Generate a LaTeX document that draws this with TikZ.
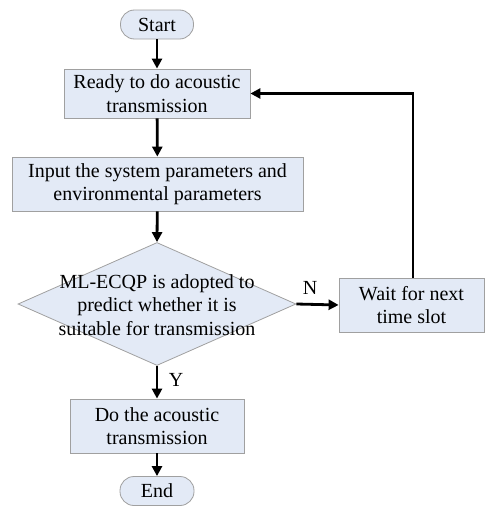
\documentclass[tikz,border=0pt]{standalone}
\usepackage{fontspec}
\setmainfont{Liberation Serif}
\usetikzlibrary{arrows.meta,shapes.geometric}
\definecolor{boxfill}{HTML}{E3EAF6}
\definecolor{boxline}{HTML}{A0A0A0}
\tikzset{
  base/.style={draw=boxline, fill=boxfill, line width=0.8pt, inner sep=0pt, align=center,
    font=\fontsize{20}{23.5}\selectfont},
  procbox/.style={base, rectangle},
  termbox/.style={base, rectangle, rounded corners=14pt},
  decbox/.style={draw=boxline, fill=boxfill, line width=0.8pt, diamond, inner sep=0pt},
  flow/.style={line width=2.8pt, -{Triangle[length=10pt,width=10pt]}},
  lbl/.style={font=\fontsize{20}{23.5}\selectfont, inner sep=0pt}
}
\begin{document}
\begin{tikzpicture}[x=1pt,y=-1pt]
\useasboundingbox (0,0) rectangle (486,506);
\node[termbox, minimum width=73pt, minimum height=29pt] (start) at (157,24.5) {Start};
\node[procbox, minimum width=186pt, minimum height=49pt] (ready) at (157,93.5) {Ready to do acoustic\\transmission};
\node[procbox, minimum width=291pt, minimum height=54pt] (input) at (157.5,184) {Input the system parameters and\\environmental parameters};
\node[decbox, minimum width=278pt, minimum height=123pt] (dec) at (157,304) {};
\node[lbl, align=center] (dectext) at (157,305) {ML-ECQP is adopted to\\predict whether it is\\suitable for transmission};
\node[procbox, minimum width=145pt, minimum height=54pt] (wait) at (411.5,305) {Wait for next\\time slot};
\node[procbox, minimum width=174pt, minimum height=54pt] (do) at (157,426) {Do the acoustic\\transmission};
\node[termbox, minimum width=74pt, minimum height=29pt] (end) at (157,491) {End};
\draw[flow] (start) -- (ready);
\draw[flow] (ready) -- (input);
\draw[flow] (input) -- (dec.north);
\draw[flow] (dec.east) -- (wait.west);
\draw[flow] (dec.south) -- (do);
\draw[flow] (do) -- (end);
\draw[flow] ([xshift=1.5pt]wait.north) |- (ready.east);
\node[lbl] (nlab) at (310,288) {N};
\node[lbl] (ylab) at (176,380) {Y};
\end{tikzpicture}
\end{document}
